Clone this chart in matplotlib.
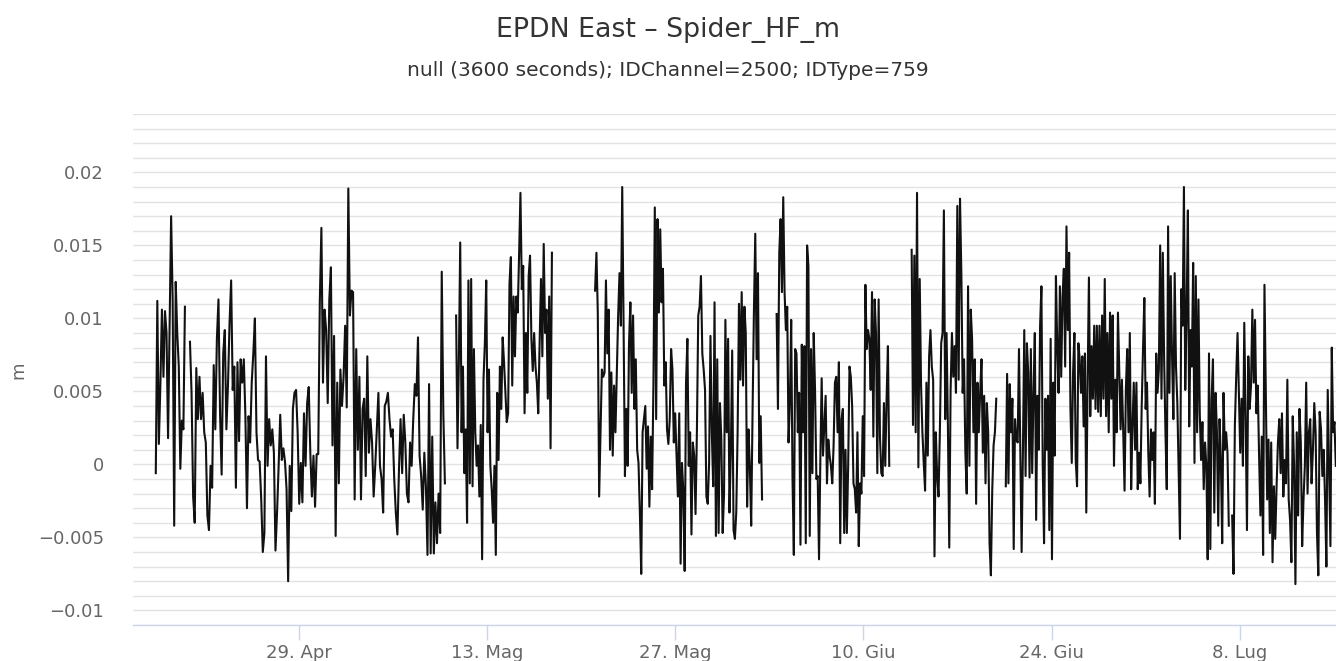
import numpy as np
import pandas as pd
import matplotlib
matplotlib.use("Agg")
import matplotlib.pyplot as plt
from matplotlib.ticker import MultipleLocator, FuncFormatter

# EPDN East displacement (values in mm), split where the record has gaps
seg_start = ["2019-04-18 09:00", "2019-04-20 22:00", "2019-05-10 17:00", "2019-05-21 01:00",
             "2019-06-03 13:00", "2019-06-13 14:00", "2019-06-20 14:00", "2019-07-07 10:00"]
seg_end = ["2019-04-20 13:00", "2019-05-09 21:00", "2019-05-17 20:00", "2019-06-02 11:00",
           "2019-06-11 22:00", "2019-06-19 21:00", "2019-07-07 04:00", "2019-07-15 03:00"]

east_a1 = [-0.6, 11.2, 1.4, 5.5, 10.6, 6.0, 10.5, 9.0, 1.8, 9.2, 17.0, 11.3, -4.2, 12.5, 9.0,
           6.7, -0.3, 3.0, 2.4, 10.8]

east_a2 = [8.4, 4.9, -2.2, -4.0, 6.6, 3.1, 6.0, 3.1, 4.9, 2.2, 1.5,
           -3.5, -4.5, -0.1, -1.6, 6.8, 2.4, 8.6, 11.3, 3.5,
           -0.7, 7.6, 9.2, 2.4, 5.4, 9.7, 12.6, 5.1, 6.7, -1.6,
           7.0, 1.6, 7.2, 5.6, 7.2, 3.3, -3.0, 3.3, 1.5, 5.6, 7.6, 10.0,
           2.2, 0.3, 0.2, -2.4, -6.0, -4.7, 7.4, -0.1, 3.1, 1.3, 2.4, 0.8,
           -5.9, -3.3, -0.1, 3.4, 0.3, 1.1, 0.2, -1.7, -8.0, -0.1, -3.2, 3.8, 4.9, 5.1, 2.2,
           -2.7, 0.1, -2.6, 3.5, -0.1, 4.2, 5.3, 0.8, -2.2, 0.6, -2.9, 0.7,
           0.7, 11.2, 16.2, 5.6, 10.6, 9.2, 4.2, 11.3, 13.5, 1.3,
           8.8, -4.9, 5.6, -1.3, 6.5, 4.0, 6.0, 9.5, 3.9,
           18.9, 10.2, 11.9, 11.8, -2.4, 7.9, 1.0, 6.0, -2.4,
           3.8, 4.5, -0.8, 7.4, 0.8, 3.1, 1.5, -2.2, -0.1, 2.4, 4.9, -0.1, -1.0, -3.3, 4.0,
           4.3, 4.9, 3.1, 1.9, 2.4, -1.0, -3.3, -4.8,
           -0.3, 3.1, -0.6, 3.4, 1.5, -2.0, -2.6, 1.5,
           -0.1, 3.1, 5.5, 4.7, 8.7, 0.6, -0.8, -3.1,
           0.8, -1.5, -6.2, 5.5, -6.1, 1.9, -6.1,
           -2.6, -5.4, -2.0, -4.7, 13.2, 3.5, -1.3]

east_a3 = [10.2, 1.1, 7.0, 15.2, 2.2, 6.7, -0.6, 2.4, -4.0,
           12.6, -1.3, 12.7, -1.5, 7.9, 2.2, -0.1,
           1.3, -2.2, 2.7, -6.5, 5.8, 8.3, 12.6, 2.2, 6.5,
           -0.1, -1.7, -4.0, -0.1, -6.2, 4.9, 0.3, 6.7,
           3.8, 8.7, 7.0, 5.0, 2.9, 3.5, 12.4, 14.2,
           5.4, 11.5, 7.4, 11.5, 10.4, 14.3, 18.6, 12.0, 13.6, 3.5, 9.0,
           4.9, 12.9, 14.3, 8.6, 6.4, 9.0, 6.7, 5.6, 3.5, 8.3, 12.7,
           7.4, 15.1, 9.0, 10.6, 4.5, 11.5, 1.1, 14.5]

east_b = [11.9, 14.5, 10.4, -2.2, 2.2, 6.5, 6.0, 6.3, 12.6, 7.6, 10.6, 1.0, 6.3, 0.6, 5.4,
          2.2, 6.3, 10.2, 13.1, 9.5, 19.0,
          9.5, -0.8, 3.8, -0.1, 8.3, 11.1, 4.9, 10.2, 3.8, 7.2, 1.0, 0.1,
          -3.3, -7.5, 2.2, 3.1, 4.0, -0.3, 2.6, -2.9, 1.9, -1.7,
          5.6, 17.6, 3.1, 16.8, 10.4, 16.1, 11.1, 13.4, 5.4, 7.0, 2.4, 1.4, 3.1, 7.9, 6.5, 1.5, 3.5,
          0.6, -2.2, 3.5, -6.8, 0.1, -1.8, -7.3, 5.6, 8.6, -0.1, 2.2, -4.8, 1.5, 0.6, -3.4, 2.2,
          10.2, 10.8, 12.9, 7.6, 6.5, 5.1, -2.2, -2.7, 0.1, 8.8, 2.2, -1.5, 11.1, -4.9, 7.2, -4.7, 4.2,
          1.7, -4.7, -2.0, 9.9, 2.2, 8.6, -3.3, 0.8, 7.8, -4.5, -5.1, -3.3, 2.2, 11.0, 5.8, 11.8,
          5.4, 10.8, 9.0,
          -2.9, 2.4, -0.1, -4.2, 3.5, 10.4, 15.8, 7.2, 13.1, 0.1, 3.3, -2.4]

east_c = [10.3, 3.8, 14.5, 16.8, 11.8, 18.3, 11.8, 9.2, 10.8, 1.5, 4.2, 9.9, -1.0, -6.2, 7.9,
          7.6, 2.2, 4.9, -5.5, 8.2, 2.2, 8.1, -5.4, 15.0, 13.6, -4.9, 7.9, -0.6, 9.0, 5.1,
          -1.0, -0.8, -6.5, 0.3, 5.9, 0.6, 2.6, 4.7, -1.3, 1.7, 0.6, -0.1, -1.3, 1.3, 5.6, 6.0,
          2.2, 7.0, -5.4, 3.1, 3.8, -4.7, 1.0, -4.7, -0.1, 6.7, 6.0, 4.0, -1.3, -1.7, -3.3, 2.2,
          -5.6, -1.3, -2.0, 3.3, -0.8, 12.3, 7.9, 9.2,
          8.6, 5.1, 11.8, 1.9, 11.3, 9.0, -0.6, 11.3, 1.9, -0.6, -0.8, 4.2, -0.1, 4.5, 8.1, -0.1]

east_d = [14.7, 2.7, 14.3, 2.2, 18.6, -0.2, 12.7, 5.4, 2.2, 0.1, -1.8, 5.6, 0.6, 7.4, 9.2, 6.7,
          5.8, -6.3, 2.2, -0.8, -2.2, 2.2, 8.3, 9.0, 17.4, 3.1, 9.0, 2.6, -5.7, 5.1, 9.0, 6.0,
          8.1, 4.9, 17.7, 5.8, 18.2, 13.1, 4.9, 7.2, 0.8, -2.0, 12.2, -0.1, 10.6, 8.6, 2.2, 7.2,
          -2.7, 5.6, 2.2, 4.9, 7.2, 0.8, 4.7, -1.3, 4.2, 2.2, -5.4, -7.6, -1.8, 1.3, 2.2, 4.5]

east_e1 = [-1.5, 6.2, -1.3, 5.5, 2.2, 4.5, -5.8, 3.1, 1.7, 1.5, 7.9, 1.0, -6.0, 1.0, 9.2, -0.8,
           8.3, 6.3, -0.9, 7.9, -0.6, 4.9, 9.0, -3.8, 4.7, 1.0, 9.5, 12.2, -0.1, -5.4, 4.5, 1.0,
           4.7, -4.5, 8.6, -6.5, 5.6, 0.6, 12.9, 8.1, 4.9, 12.2, 6.0, 11.5, 13.4, 6.7, 16.3, 9.2,
           14.5, 3.8, 0.1, 6.3, 9.0, 0.3, -1.5, 8.3, 7.2, 4.9, 7.4, 2.6, 7.6, -3.3, 5.6, 12.8,
           3.3, 8.1, 4.5, 9.5, 3.8, 9.5, 3.6, 9.5, 3.3, 10.2, 4.5, 12.7, 3.3, 9.0, 2.2,
           10.4, 4.5, 10.2, -0.1, 5.8, 2.2, 10.4, 6.3, 2.4, 5.8, 2.2, -1.8, 5.1, 7.9, 2.2, 9.0,
           -1.7, 2.6, 5.6, 1.0, 5.6, -1.7, 0.8, -1.3, 4.0, 7.9, 11.4, 3.8, 5.6, 0.8, -2.2, 2.4,
           0.3, 2.2, -2.7, 7.6, 4.9, 6.5, 15.0, 4.5, 14.5, 7.2, 2.2, -1.7, 16.3, 4.9, 12.9, 7.4,
           3.1, 13.1, 6.7, 4.2, -0.3, -5.1, 12.0, 9.5, 19.0, 5.1, 10.2, 17.4, 2.6, 9.2, 6.7, 13.8,
           0.1, 12.9, 2.2, 11.3, 3.5, 0.3, 2.9, -1.7, 1.5, -0.1, -6.5, 7.6, -5.8, 4.5, 7.2, -3.3,
           4.9, 2.2, -4.2, 3.1, 0.3, -5.4, 4.9, 1.0, 2.2, 0.8, -4.2]

east_e2 = [-3.5, -7.5, 2.6, 6.0, 9.0, 4.9, 0.8, 4.5, -0.1, 9.7, 3.3, -4.5, 7.4, 3.8, 5.4, 10.6,
           5.6, 9.9, 3.5, 5.4, 0.6, -3.5, 1.9, -6.2, 12.3, 5.1, -2.4, 1.7, -4.7, 1.5, -6.7, -1.5,
           -5.1, -1.5, 1.5, 3.1, -0.6, 3.5, -2.2, 0.3, -1.3, 5.8, -2.4, -3.8, -6.7, 3.3, -0.1,
           -8.2, 2.2, -3.5, 3.8, 1.5, -5.6, -2.4, -0.1, 5.6, -2.0, 2.2, 3.1, -1.3, 1.0, 4.2, 2.2,
           -4.7, -7.6, 3.6, 2.4, -0.8, 1.0, -2.4, -7.0, 5.1, -0.1, -5.6, 8.0, 2.2, 2.9, -0.1]

segments = [east_a1, east_a2, east_a3, east_b, east_c, east_d, east_e1, east_e2]

tick_dates = ["2019-04-29", "2019-05-13", "2019-05-27", "2019-06-10", "2019-06-24", "2019-07-08"]
tick_labels = ["29. Apr", "13. Mag", "27. Mag", "10. Giu", "24. Giu", "8. Lug"]

# build one series with NaN between segments so the line breaks at the gaps
times, values = [], []
for s, e, vals in zip(seg_start, seg_end, segments):
    t = pd.date_range(s, e, periods=len(vals))
    times.extend(list(t))
    values.extend(list(np.array(vals) / 1000.0))
    times.append(t[-1] + pd.Timedelta(minutes=30))
    values.append(np.nan)

fig = plt.figure(figsize=(13.36, 6.61), dpi=100)
ax = fig.add_axes([133 / 1336, 36 / 661, 1 - 133 / 1336, 511 / 661])

ax.plot(times, values, color="#111111", linewidth=1.5, zorder=3)

ax.set_xlim(pd.Timestamp("2019-04-16 16:20"), pd.Timestamp("2019-07-15 03:20"))
ax.set_ylim(-0.011, 0.024)

ax.yaxis.set_major_locator(MultipleLocator(0.005))
ax.yaxis.set_minor_locator(MultipleLocator(0.001))
ax.yaxis.set_major_formatter(FuncFormatter(lambda v, p: "0" if abs(v) < 1e-9 else f"{v:g}".replace("-", "\u2212")))
ax.grid(axis="y", which="both", color="#e3e3e3", linewidth=1.0, zorder=0)

ax.set_xticks(pd.to_datetime(tick_dates))
ax.set_xticklabels(tick_labels)

for side in ["top", "right", "left"]:
    ax.spines[side].set_visible(False)
ax.spines["bottom"].set_color("#ccd6eb")
ax.spines["bottom"].set_linewidth(1.0)

ax.tick_params(axis="y", which="both", length=0, pad=21, labelsize=13, labelcolor="#666666")
ax.tick_params(axis="x", length=11, width=1, color="#ccd6eb", pad=3, labelsize=13, labelcolor="#666666")

fig.text(0.5, 1 - 30 / 661, "EPDN East \u2013 Spider_HF_m", ha="center", va="center",
         fontsize=19.3, color="#333333")
fig.text(0.5, 1 - 71 / 661, "null (3600 seconds); IDChannel=2500; IDType=759", ha="center",
         va="center", fontsize=14.5, color="#333333")
fig.text(18 / 1336, 1 - 370 / 661, "m", rotation=90, ha="center", va="center",
         fontsize=13, color="#666666")

fig.savefig("out.png", dpi=100)
